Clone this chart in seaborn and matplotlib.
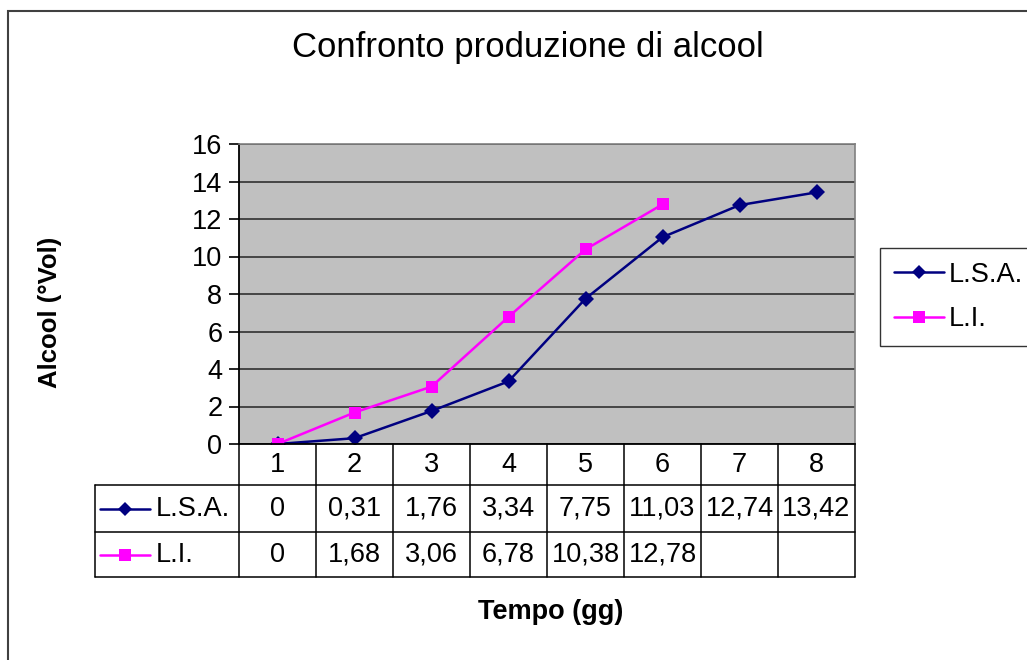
import matplotlib
matplotlib.use("Agg")
import matplotlib.pyplot as plt
import matplotlib.transforms as mtransforms
from matplotlib.lines import Line2D
from matplotlib.patches import Rectangle
import numpy as np
import pandas as pd
import seaborn as sns

# ---- data ----
days = [1, 2, 3, 4, 5, 6, 7, 8]
lsa = [0, 0.31, 1.76, 3.34, 7.75, 11.03, 12.74, 13.42]
li = [0, 1.68, 3.06, 6.78, 10.38, 12.78]
series_names = ["L.S.A.", "L.I."]
colors = {"L.S.A.": "#000080", "L.I.": "#FF00FF"}
markers = {"L.S.A.": "D", "L.I.": "s"}

df = pd.concat([
    pd.DataFrame({"Tempo": days[:len(lsa)], "Alcool": lsa, "serie": "L.S.A."}),
    pd.DataFrame({"Tempo": days[:len(li)], "Alcool": li, "serie": "L.I."}),
])

sns.set_style("white")
plt.rcParams["font.family"] = ["Liberation Sans", "DejaVu Sans"]
plt.rcParams["text.color"] = "black"
plt.rcParams["ytick.color"] = "black"
plt.rcParams["ytick.labelcolor"] = "black"

fs = 19.5

fig = plt.figure(figsize=(10.27, 6.6), dpi=100)
ax = fig.add_axes([239 / 1027, 1 - 444 / 660, 616 / 1027, 300 / 660])
ax.set_facecolor("#C0C0C0")

sns.lineplot(
    data=df, x="Tempo", y="Alcool", hue="serie", style="serie",
    palette=colors, markers=markers, dashes=False, markersize=8,
    markeredgewidth=0, linewidth=1.8, legend=False, ax=ax,
)
# bigger square for L.I.
for ln in ax.get_lines():
    if ln.get_marker() == "s":
        ln.set_markersize(9)

ax.set_xlim(0.5, 8.5)
ax.set_ylim(0, 16)
ax.set_yticks(range(0, 17, 2))
ax.yaxis.grid(True, color="#303030", linewidth=1.2)
ax.set_axisbelow(True)
ax.set_xticks([])
ax.set_xlabel("")
ax.set_ylabel("")
ax.tick_params(axis="y", length=7, width=1.2, color="black", labelsize=fs, pad=5,
               left=True, labelcolor="black")
for side in ["left", "bottom"]:
    ax.spines[side].set_color("black")
    ax.spines[side].set_linewidth(1.3)
for side in ["top", "right"]:
    ax.spines[side].set_color("#808080")
    ax.spines[side].set_linewidth(1.2)

fig.text(50 / 1027, 1 - 312 / 660, "Alcool (°Vol)", rotation=90, ha="center",
         va="center", fontsize=18.5, fontweight="bold")
fig.text(551 / 1027, 1 - 612 / 660, "Tempo (gg)", ha="center", va="center",
         fontsize=19.5, fontweight="bold")
fig.text(528 / 1027, 1 - 47 / 660, "Confronto produzione di alcool", ha="center",
         va="center", fontsize=25)

# ---- data table under the plot ----
tr = mtransforms.blended_transform_factory(ax.transData, ax.transAxes)
row_y = [0, -41 / 300, -88 / 300, -133 / 300]
x_left = 0.5 - 144 / 77
edges = [d - 0.5 for d in days] + [days[-1] + 0.5]
kw = dict(transform=tr, clip_on=False, color="black", linewidth=1.1)
for e in edges:
    ax.add_line(Line2D([e, e], [row_y[0], row_y[3]], **kw))
ax.add_line(Line2D([x_left, x_left], [row_y[1], row_y[3]], **kw))
for y in row_y[1:]:
    ax.add_line(Line2D([x_left, edges[-1]], [y, y], **kw))

for d in days:
    ax.text(d, (row_y[0] + row_y[1]) / 2, str(d), transform=tr, ha="center",
            va="center", fontsize=fs)
for i, (name, vals) in enumerate(zip(series_names, [lsa, li])):
    yc = (row_y[i + 1] + row_y[i + 2]) / 2
    for d, v in zip(days, vals):
        ax.text(d, yc, f"{v:g}".replace(".", ","), transform=tr, ha="center",
                va="center", fontsize=fs)
    x0 = x_left + 5 / 77
    x1 = x_left + 55 / 77
    ax.add_line(Line2D([x0, (x0 + x1) / 2, x1], [yc, yc, yc], transform=tr,
                       clip_on=False, color=colors[name], linewidth=1.8,
                       marker=markers[name], markevery=[1],
                       markersize=9 if name == "L.I." else 7,
                       markeredgewidth=0))
    ax.text(x_left + 61 / 77, yc, name, transform=tr, ha="left", va="center",
            fontsize=fs)

# ---- legend ----
handles = [Line2D([0], [0], color=colors[n], marker=markers[n], linewidth=1.8,
                  markersize=9 if n == "L.I." else 7, markeredgewidth=0)
           for n in series_names]
leg = fig.legend(handles, series_names, loc="upper left",
                 bbox_to_anchor=(880 / 1027, 1 - 248 / 660), fontsize=fs,
                 frameon=True, fancybox=False, edgecolor="black",
                 handlelength=1.85, handletextpad=0.2, labelspacing=0.7,
                 borderpad=0.5, borderaxespad=0)
leg.get_frame().set_linewidth(1.0)

# outer chart border
fig.patches.append(Rectangle((8 / 1027, -0.1), 1.1, 1 - 11 / 660 + 0.1,
                             transform=fig.transFigure, fill=False,
                             edgecolor="#404040", linewidth=1.5))

fig.savefig("out.png", dpi=100, facecolor="white")
